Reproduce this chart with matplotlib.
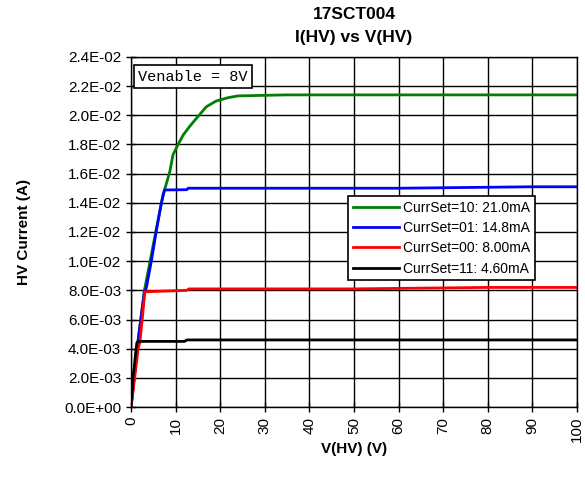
"""HV current vs HV voltage sweep for the four CurrSet settings."""

import matplotlib.pyplot as plt
from matplotlib.ticker import FuncFormatter, MultipleLocator

# CurrSet=10: 21.0mA
v_10 = [0.0, 1.6, 3.0, 7.2, 7.4, 8.7, 9.4, 10.5, 11.7, 13.1, 15.0, 16.9,
        19.1, 21.8, 24.0, 30.0, 35.0, 50.0, 70.0, 100.0]
i_10 = [0.0, 0.0046, 0.0080, 0.0146, 0.01476, 0.01614, 0.01728, 0.01797,
        0.01865, 0.01922, 0.01991, 0.02059, 0.02098, 0.02121, 0.02133,
        0.02137, 0.0214, 0.0214, 0.0214, 0.0214]

# CurrSet=01: 14.8mA
v_01 = [0.0, 1.6, 3.0, 3.4, 4.6, 5.7, 6.8, 7.5, 12.5, 12.8, 30.0, 60.0,
        90.0, 100.0]
i_01 = [0.0, 0.0046, 0.0079, 0.00814, 0.01008, 0.01214, 0.01397, 0.01488,
        0.01490, 0.0150, 0.0150, 0.0150, 0.0151, 0.0151]

# CurrSet=00: 8.00mA
v_00 = [0.0, 1.6, 2.0, 2.5, 3.1, 12.5, 13.0, 50.0, 80.0, 100.0]
i_00 = [0.0, 0.0040, 0.00446, 0.0060, 0.0079, 0.0080, 0.0081, 0.0081,
        0.0082, 0.0082]

# CurrSet=11: 4.60mA
v_11 = [0.0, 0.3, 0.4, 0.7, 1.1, 1.3, 1.6, 12.0, 12.5, 100.0]
i_11 = [0.0002, 0.0012, 0.0020, 0.0027, 0.0039, 0.0044, 0.0045, 0.0045,
        0.0046, 0.0046]

labels = ["CurrSet=10: 21.0mA", "CurrSet=01: 14.8mA",
          "CurrSet=00: 8.00mA", "CurrSet=11: 4.60mA"]
colors = ["#008000", "#0000ff", "#ff0000", "#000000"]

plt.rcParams["font.family"] = ["Liberation Sans", "DejaVu Sans"]

fig = plt.figure(figsize=(5.85, 4.91), dpi=100)
ax = fig.add_axes([0.224, 0.171, 0.762, 0.713])

series = [(v_10, i_10), (v_01, i_01), (v_00, i_00), (v_11, i_11)]
for (v, i), lab, c in zip(series, labels, colors):
    ax.plot(v, i, color=c, lw=2, label=lab)

ax.set_xlim(0, 100)
ax.set_ylim(0, 0.024)
ax.xaxis.set_major_locator(MultipleLocator(10))
ax.yaxis.set_major_locator(MultipleLocator(0.002))
ax.yaxis.set_major_formatter(FuncFormatter(lambda y, _pos: f"{y:.1E}"))

ax.grid(True, color="black", lw=1)
ax.set_axisbelow(True)
for sp in ax.spines.values():
    sp.set_color("black")
    sp.set_linewidth(1)

ax.tick_params(axis="both", direction="inout", length=7, width=1,
               labelsize=11)
ax.tick_params(axis="x", labelrotation=90)

ax.set_xlabel("V(HV) (V)", fontsize=11, fontweight="bold", labelpad=0)
ax.set_ylabel("HV Current (A)", fontsize=11, fontweight="bold", labelpad=24)
ax.set_title("17SCT004\nI(HV) vs V(HV)", fontsize=12.5, fontweight="bold",
             pad=11, linespacing=1.6)

ax.text(0.016, 0.963, "Venable = 8V", transform=ax.transAxes,
        family=["Liberation Mono", "DejaVu Sans Mono"], fontsize=11,
        va="top", ha="left",
        bbox=dict(boxstyle="square,pad=0.3", fc="white", ec="black", lw=1.2))

leg = ax.legend(loc="upper left", bbox_to_anchor=(0.487, 0.603),
                fontsize=10, frameon=True, fancybox=False, framealpha=1,
                edgecolor="black", borderpad=0.35, labelspacing=0.45,
                handlelength=3.3, handletextpad=0.3, borderaxespad=0)
leg.get_frame().set_linewidth(1.2)

fig.savefig("out.png", dpi=100)
